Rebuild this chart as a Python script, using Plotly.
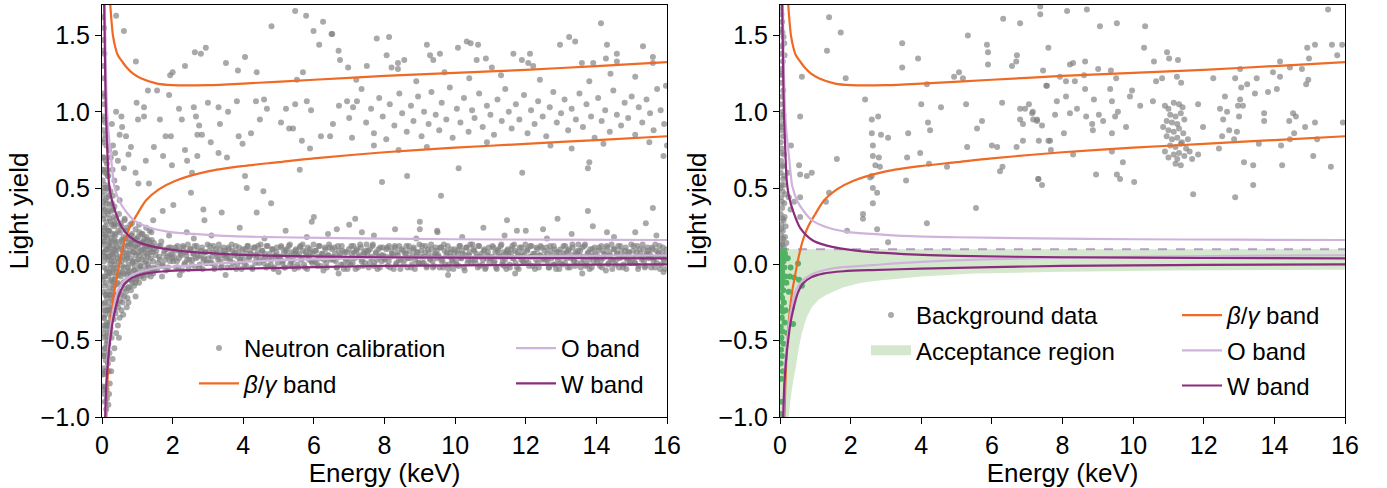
import plotly.graph_objects as go

FONT = "Liberation Sans, Arial, sans-serif"
GREY = "rgba(128,128,128,0.68)"
ORANGE = "#ef6a24"
OLIGHT = "#d0b3dc"
WDARK = "#8b2c7c"
DASHC = "#b99acd"
GFILL = "#d4e8cd"
GPTS = "#52b163"

energy_ticks = [0, 2, 4, 6, 8, 10, 12, 14, 16]
ly_ticks = [-1.0, -0.5, 0.0, 0.5, 1.0, 1.5]

# ---- band curves ----
bg_up_x = [0.22, 0.26, 0.31, 0.38, 0.45, 0.57, 0.70, 0.88, 1.10, 1.56, 2.00, 3.00, 4.00, 6.00, 8.00, 10.0, 12.0, 14.0, 16.0]
bg_up_y = [1.75, 1.62, 1.50, 1.42, 1.37, 1.33, 1.29, 1.25, 1.22, 1.185, 1.175, 1.175, 1.185, 1.21, 1.235, 1.255, 1.275, 1.30, 1.325]
bg_lo_x = [0.12, 0.15, 0.18, 0.22, 0.28, 0.35, 0.42, 0.52, 0.65, 0.80, 1.00, 1.25, 1.60, 2.10, 3.00, 4.00, 5.00, 6.00, 8.00, 10.0, 12.0, 14.0, 16.0]
bg_lo_y = [-1.05, -0.80, -0.62, -0.46, -0.30, -0.17, -0.08, 0.04, 0.16, 0.25, 0.33, 0.42, 0.49, 0.55, 0.61, 0.645, 0.67, 0.695, 0.735, 0.765, 0.79, 0.815, 0.84]
o_up_x = [0.08, 0.10, 0.13, 0.17, 0.24, 0.30, 0.35, 0.50, 0.70, 0.90, 1.30, 1.85, 2.60, 3.70, 5.00, 7.30, 10.0, 13.0, 16.0]
o_up_y = [1.72, 1.40, 1.10, 0.90, 0.74, 0.60, 0.51, 0.41, 0.34, 0.29, 0.245, 0.215, 0.20, 0.185, 0.178, 0.17, 0.165, 0.162, 0.16]
o_lo_x = [0.095, 0.13, 0.18, 0.25, 0.33, 0.45, 0.60, 0.75, 1.00, 1.30, 1.70, 2.60, 3.50, 4.90, 7.00, 10.0, 13.0, 16.0]
o_lo_y = [-1.05, -0.75, -0.55, -0.40, -0.28, -0.17, -0.115, -0.085, -0.055, -0.035, -0.02, -0.005, 0.01, 0.026, 0.04, 0.05, 0.056, 0.06]
w_up_x = [0.06, 0.075, 0.09, 0.11, 0.15, 0.19, 0.25, 0.37, 0.57, 0.93, 1.30, 1.70, 2.60, 3.50, 5.00, 8.00, 12.0, 16.0]
w_up_y = [1.72, 1.50, 1.25, 1.00, 0.75, 0.55, 0.45, 0.35, 0.24, 0.157, 0.125, 0.105, 0.08, 0.068, 0.056, 0.047, 0.042, 0.04]
w_lo_x = [0.085, 0.12, 0.17, 0.23, 0.30, 0.37, 0.50, 0.65, 0.88, 1.22, 1.80, 2.60, 4.00, 6.00, 8.00, 10.0, 12.0, 16.0]
w_lo_y = [-1.05, -0.80, -0.63, -0.50, -0.38, -0.30, -0.19, -0.125, -0.085, -0.06, -0.045, -0.037, -0.028, -0.018, -0.01, -0.006, -0.003, 0.0]

# ---- acceptance region (right panel) ----
acc_top = 0.1
acc_lo_x = [0.23, 0.30, 0.37, 0.45, 0.53, 0.62, 0.75, 0.90, 1.10, 1.30, 1.60, 1.80, 2.30, 2.80, 3.50, 4.00, 5.50, 7.60, 11.0, 16.0]
acc_lo_y = [-1.05, -0.88, -0.77, -0.67, -0.55, -0.45, -0.35, -0.28, -0.23, -0.20, -0.17, -0.15, -0.12, -0.105, -0.09, -0.08, -0.06, -0.05, -0.04, -0.035]

# ---- neutron calibration points (left panel) ----
neutron_upper = [
    (2.63,1.39),(2.80,1.38),(2.94,1.42),(0.96,1.33),(0.62,1.53),(0.40,1.63),(1.93,1.24),(2.00,1.26),(2.35,1.30),(3.51,1.32),
    (3.85,1.27),(4.05,1.36),(4.38,1.26),(4.80,1.56),(5.47,1.66),(5.78,1.63),(5.99,1.53),(6.26,1.59),(6.52,1.51),(6.15,1.44),
    (6.70,1.40),(6.74,1.34),(5.69,1.26),(5.52,1.21),(1.30,1.14),(1.56,1.14),(1.90,1.11),(0.98,1.06),(1.19,1.03),(1.19,0.97),
    (1.02,0.95),(0.40,1.00),(0.57,0.90),(0.28,0.92),(0.68,0.84),(0.37,0.73),(0.82,0.77),(0.45,0.68),(1.24,0.68),(1.47,0.77),
    (1.80,0.84),(1.95,0.84),(1.64,0.95),(2.18,1.02),(2.26,0.95),(2.60,1.03),(2.66,0.97),(2.75,0.91),(2.83,0.85),(2.70,0.85),
    (3.08,0.80),(3.00,1.06),(3.30,1.03),(3.34,0.92),(3.57,1.00),(3.82,1.07),(3.87,0.84),(3.98,0.79),(4.22,0.86),(4.36,1.07),
    (4.59,1.08),(4.67,1.02),(4.47,0.95),(5.07,0.93),(5.30,0.89),(5.41,0.89),(5.21,1.02),(5.47,1.05),(5.80,1.07),(5.92,1.01),
    (5.66,0.81),(5.89,0.76),(6.20,0.84),(6.46,0.84),(6.54,0.92),(6.71,1.04),(6.94,1.07),(7.08,0.83),(7.11,1.03),(7.22,1.07),
    (7.00,0.96),(3.54,0.70),(3.30,0.73),(2.41,0.68),(1.73,0.71),(2.35,0.75),(1.98,0.65),(4.05,0.58),(2.55,0.60),(2.70,0.71),
    (6.50,1.51),(7.78,1.48),(8.13,1.49),(8.06,1.37),(8.20,1.29),(8.38,1.32),(8.38,1.28),(8.56,1.34),(9.20,1.44),(9.29,1.37),
    (9.38,1.34),(9.57,1.38),(10.08,1.42),(10.33,1.46),(10.44,1.45),(10.65,1.44),(10.61,1.34),(10.87,1.35),(11.04,1.29),(11.65,1.38),
    (11.89,1.34),(12.12,1.38),(12.07,1.32),(12.21,1.30),(12.97,1.44),(13.23,1.49),(13.40,1.46),(13.59,1.32),(13.91,1.32),(14.13,1.58),
    (14.30,1.44),(14.27,1.35),(14.58,1.38),(14.58,1.33),(15.32,1.43),(15.60,1.36),(15.60,1.32),(6.97,1.29),(7.50,1.30),
    (7.35,1.15),(7.48,0.93),(7.62,1.02),(7.70,0.86),(7.85,1.09),(7.95,0.97),(8.05,0.82),(8.15,1.05),(8.28,0.91),(8.42,1.12),
    (8.50,0.99),(8.63,0.87),(8.75,1.04),(8.82,0.94),(8.95,1.10),(9.05,0.84),(9.12,1.00),(9.25,0.92),(9.33,1.13),(9.45,0.98),
    (9.55,0.88),(9.62,1.06),(9.75,0.95),(9.85,1.16),(9.93,0.83),(10.05,1.02),(10.15,0.93),(10.25,1.09),(10.38,0.87),(10.48,1.01),
    (10.55,0.96),(10.68,1.12),(10.78,0.90),(10.90,1.04),(11.00,0.98),(11.10,0.85),(11.20,1.08),(11.32,0.94),(11.42,1.15),(11.52,1.00),
    (11.60,0.89),(11.72,1.05),(11.82,0.95),(11.95,1.11),(12.05,0.86),(12.15,1.01),(12.25,0.92),(12.35,1.07),(12.48,0.97),(12.58,0.84),
    (12.68,1.03),(12.78,1.13),(12.88,0.93),(13.00,0.99),(13.10,1.08),(13.20,0.88),(13.30,1.02),(13.42,0.95),(13.52,1.12),(13.62,0.90),
    (13.72,1.05),(13.85,0.97),(13.95,0.83),(14.05,1.09),(14.15,0.94),(14.25,1.01),(14.38,0.87),(14.48,1.14),(14.58,0.98),(14.70,0.91),
    (14.80,1.06),(14.90,0.96),(15.00,1.10),(15.10,0.85),(15.20,1.03),(15.30,0.93),(15.42,1.08),(15.52,0.99),(15.62,0.88),(15.72,1.15),
    (15.82,1.01),(15.92,0.92),(15.97,1.17),(7.20,1.21),(8.90,1.20),(10.40,1.22),(12.40,1.21),(13.80,1.20),(15.10,1.23),(9.70,1.26),
    (11.30,1.24),(14.40,1.25),(7.70,0.78),(9.20,0.77),(10.90,0.80),(12.70,0.78),(14.20,0.79),(15.50,0.80),(8.40,0.75),(13.30,0.76),
    (7.17,0.30),(7.93,0.54),(8.64,0.58),(11.47,0.29),(13.76,0.35),(15.60,0.37),(13.76,0.63),(13.80,0.67),(6.65,0.23),(7.36,0.21),
    (9.00,0.23),(9.49,0.22),(11.75,0.22),(12.49,0.23),(14.30,0.21),(2.52,0.47),(2.87,0.36),(3.39,0.34),(4.10,0.50),(4.57,0.48),
    (4.79,0.40),(4.38,0.34),(5.94,0.28),(1.72,0.35),(2.02,0.39),(1.45,0.29),(1.03,0.53),(1.33,0.53),(5.60,0.62),(10.10,0.63),
    (15.90,0.71),(16.00,0.78),(11.90,0.60),(9.60,0.45),(0.31,0.78),(0.50,0.85),(0.75,0.72),(0.62,0.63),(0.95,0.60),(0.55,0.97),
]

neutron_band = [
    (0.52,0.12),(0.55,0.02),(0.58,-0.05),(0.61,0.18),(0.63,0.08),(0.66,-0.11),(0.68,0.22),(0.71,0.04),(0.73,-0.02),(0.76,0.14),(0.78,0.09),(0.81,-0.07),
    (0.83,0.19),(0.86,0.01),(0.88,0.11),(0.91,-0.04),(0.93,0.16),(0.96,0.06),(0.98,-0.09),(1.01,0.13),(1.03,0.03),(1.06,0.21),(1.08,-0.01),(1.11,0.09),
    (1.13,-0.06),(1.16,0.15),(1.18,0.05),(1.21,0.11),(1.23,-0.03),(1.26,0.18),(1.28,0.07),(1.31,0.00),(1.33,0.12),(1.36,-0.05),(1.38,0.04),(1.41,0.16),
    (1.43,0.08),(1.46,-0.02),(1.48,0.10),(0.54,0.25),(0.64,0.30),(0.74,-0.15),(0.85,0.27),(0.95,-0.12),(1.05,0.26),(1.15,0.20),(1.25,0.02),(1.35,0.22),
    (0.51,0.05),(0.53,-0.08),(0.56,0.15),(0.59,0.09),(0.62,-0.02),(0.65,0.12),(0.67,0.03),(0.70,-0.07),(0.72,0.17),(0.75,0.07),(0.77,-0.04),(0.80,0.13),
    (0.82,0.04),(0.84,-0.10),(0.87,0.16),(0.90,0.08),(0.92,-0.01),(0.94,0.12),(0.97,0.02),(1.00,-0.06),(1.02,0.18),(1.04,0.08),(1.07,-0.03),(1.10,0.14),
    (1.12,0.03),(1.14,-0.07),(1.17,0.10),(1.20,0.17),(1.22,0.01),(1.24,-0.05),(1.27,0.12),(1.30,0.05),(1.32,-0.02),(1.34,0.15),(1.37,0.08),(1.40,-0.04),
    (1.42,0.12),(1.44,0.02),(1.47,0.14),(1.49,-0.03),
    (1.52,0.06),(1.56,-0.03),(1.60,0.12),(1.64,0.03),(1.68,0.15),(1.72,0.00),(1.77,0.09),(1.81,-0.04),(1.85,0.05),(1.89,0.11),(1.93,0.02),(1.97,0.07),
    (2.02,0.02),(2.06,0.09),(2.10,-0.02),(2.14,0.12),(2.18,0.04),(2.22,0.07),(2.27,-0.04),(2.31,0.11),(2.35,0.01),(2.39,0.06),(2.43,0.13),(2.47,0.03),
    (2.52,0.10),(2.56,0.03),(2.60,0.07),(2.64,-0.02),(2.68,0.12),(2.72,0.05),(2.77,0.00),(2.81,0.09),(2.85,-0.03),(2.89,0.04),(2.93,0.08),(2.97,0.01),
    (3.02,0.04),(3.06,0.12),(3.10,0.01),(3.14,0.08),(3.18,-0.03),(3.22,0.10),(3.27,0.05),(3.31,0.13),(3.35,0.02),(3.39,-0.01),(3.43,0.07),(3.47,0.09),
    (3.51,0.07),(3.55,-0.02),(3.59,0.10),(3.63,0.04),(3.67,0.13),(3.71,0.01),(3.76,0.08),(3.80,-0.03),(3.84,0.05),(3.88,0.11),(3.92,0.02),(3.96,0.06),
    (4.01,0.03),(4.05,0.10),(4.09,-0.01),(4.13,0.12),(4.17,0.05),(4.21,0.07),(4.26,-0.03),(4.30,0.11),(4.34,0.01),(4.38,0.06),(4.42,0.12),(4.46,0.03),
    (4.53,0.09),(4.57,0.03),(4.61,0.07),(4.65,-0.02),(4.69,0.12),(4.73,0.04),(4.78,0.00),(4.82,0.10),(4.86,-0.03),(4.90,0.05),(4.94,0.08),(4.98,0.01),
    (5.03,0.05),(5.07,0.12),(5.11,0.01),(5.15,0.08),(5.19,-0.02),(5.23,0.10),(5.28,0.04),(5.32,0.13),(5.36,0.02),(5.40,-0.01),(5.44,0.07),(5.48,0.09),
    (5.52,0.06),(5.56,-0.02),(5.60,0.11),(5.64,0.03),(5.68,0.13),(5.72,0.00),(5.77,0.08),(5.81,-0.03),(5.85,0.05),(5.89,0.10),(5.93,0.02),(5.97,0.07),
    (6.02,0.02),(6.06,0.09),(6.10,-0.01),(6.14,0.12),(6.18,0.04),(6.22,0.07),(6.27,-0.04),(6.31,0.11),(6.35,0.01),(6.39,0.06),(6.43,0.13),(6.47,0.03),
    (6.52,0.10),(6.56,0.03),(6.60,0.07),(6.64,-0.02),(6.68,0.12),(6.72,0.05),(6.77,0.00),(6.81,0.09),(6.85,-0.03),(6.89,0.04),(6.93,0.08),(6.97,0.01),
    (7.02,0.04),(7.06,0.12),(7.10,0.01),(7.14,0.08),(7.18,-0.03),(7.22,0.10),(7.27,0.05),(7.31,0.13),(7.35,0.02),(7.39,-0.01),(7.43,0.07),(7.47,0.09),
    (7.51,0.07),(7.55,-0.02),(7.59,0.10),(7.63,0.04),(7.67,0.13),(7.71,0.01),(7.76,0.08),(7.80,-0.03),(7.84,0.05),(7.88,0.11),(7.92,0.02),(7.96,0.06),
    (8.01,0.03),(8.05,0.10),(8.09,-0.01),(8.13,0.12),(8.17,0.05),(8.21,0.07),(8.26,-0.03),(8.30,0.11),(8.34,0.01),(8.38,0.06),(8.42,0.12),(8.46,0.03),
    (8.53,0.09),(8.57,0.03),(8.61,0.07),(8.65,-0.02),(8.69,0.12),(8.73,0.04),(8.78,0.00),(8.82,0.10),(8.86,-0.03),(8.90,0.05),(8.94,0.08),(8.98,0.01),
    (9.03,0.05),(9.07,0.12),(9.11,0.01),(9.15,0.08),(9.19,-0.02),(9.23,0.10),(9.28,0.04),(9.32,0.13),(9.36,0.02),(9.40,-0.01),(9.44,0.07),(9.48,0.09),
    (9.52,0.06),(9.56,-0.02),(9.60,0.11),(9.64,0.03),(9.68,0.13),(9.72,0.00),(9.77,0.08),(9.81,-0.03),(9.85,0.05),(9.89,0.10),(9.93,0.02),(9.97,0.07),
    (10.02,0.02),(10.06,0.09),(10.10,-0.01),(10.14,0.12),(10.18,0.04),(10.22,0.07),(10.27,-0.04),(10.31,0.11),(10.35,0.01),(10.39,0.06),(10.43,0.13),(10.47,0.03),
    (10.52,0.10),(10.56,0.03),(10.60,0.07),(10.64,-0.02),(10.68,0.12),(10.72,0.05),(10.77,0.00),(10.81,0.09),(10.85,-0.03),(10.89,0.04),(10.93,0.08),(10.97,0.01),
    (11.02,0.04),(11.06,0.12),(11.10,0.01),(11.14,0.08),(11.18,-0.03),(11.22,0.10),(11.27,0.05),(11.31,0.13),(11.35,0.02),(11.39,-0.01),(11.43,0.07),(11.47,0.09),
    (11.51,0.07),(11.55,-0.02),(11.59,0.10),(11.63,0.04),(11.67,0.13),(11.71,0.01),(11.76,0.08),(11.80,-0.03),(11.84,0.05),(11.88,0.11),(11.92,0.02),(11.96,0.06),
    (12.01,0.03),(12.05,0.10),(12.09,-0.01),(12.13,0.12),(12.17,0.05),(12.21,0.07),(12.26,-0.03),(12.30,0.11),(12.34,0.01),(12.38,0.06),(12.42,0.12),(12.46,0.03),
    (12.53,0.09),(12.57,0.03),(12.61,0.07),(12.65,-0.02),(12.69,0.12),(12.73,0.04),(12.78,0.00),(12.82,0.10),(12.86,-0.03),(12.90,0.05),(12.94,0.08),(12.98,0.01),
    (13.03,0.05),(13.07,0.12),(13.11,0.01),(13.15,0.08),(13.19,-0.02),(13.23,0.10),(13.28,0.04),(13.32,0.13),(13.36,0.02),(13.40,-0.01),(13.44,0.07),(13.48,0.09),
    (13.52,0.06),(13.56,-0.02),(13.60,0.11),(13.64,0.03),(13.68,0.13),(13.72,0.00),(13.77,0.08),(13.81,-0.03),(13.85,0.05),(13.89,0.10),(13.93,0.02),(13.97,0.07),
    (14.02,0.02),(14.06,0.09),(14.10,-0.01),(14.14,0.12),(14.18,0.04),(14.22,0.07),(14.27,-0.04),(14.31,0.11),(14.35,0.01),(14.39,0.06),(14.43,0.13),(14.47,0.03),
    (14.52,0.10),(14.56,0.03),(14.60,0.07),(14.64,-0.02),(14.68,0.12),(14.72,0.05),(14.77,0.00),(14.81,0.09),(14.85,-0.03),(14.89,0.04),(14.93,0.08),(14.97,0.01),
    (15.02,0.04),(15.06,0.12),(15.10,0.01),(15.14,0.08),(15.18,-0.03),(15.22,0.10),(15.27,0.05),(15.31,0.13),(15.35,0.02),(15.39,-0.01),(15.43,0.07),(15.47,0.09),
    (15.51,0.07),(15.55,-0.02),(15.59,0.10),(15.63,0.04),(15.67,0.13),(15.71,0.01),(15.76,0.08),(15.80,-0.03),(15.84,0.05),(15.88,0.11),(15.92,0.02),(15.96,0.06),
    (2.40,0.21),(3.10,0.19),(3.90,0.24),(4.60,0.17),(5.20,0.22),(5.80,0.18),(6.40,0.20),(7.00,0.26),(7.70,0.19),(8.30,0.23),
    (8.90,0.17),(9.50,0.21),(10.20,0.18),(10.80,0.24),(11.40,0.19),(12.00,0.22),(12.60,0.17),(13.30,0.20),(13.90,0.25),(14.50,0.18),
    (15.10,0.21),(15.70,0.19),(2.90,0.29),(6.00,0.31),(9.00,0.28),(12.90,0.30),(15.40,0.27),(3.50,-0.07),(6.70,-0.06),(9.80,-0.07),
    (13.60,-0.06),(5.00,-0.05),(11.70,-0.06),(15.90,-0.05),(1.70,-0.08),(2.20,-0.07),(1.90,0.19),(2.60,0.17),
]

neutron_band_b = [
    (1.54,0.09),(1.58,0.01),(1.62,0.05),(1.66,0.12),(1.70,-0.01),(1.75,0.07),(1.79,0.03),(1.83,0.10),(1.87,-0.02),(1.91,0.06),(1.95,0.11),(1.99,0.04),
    (2.04,0.05),(2.08,0.11),(2.12,0.02),(2.16,-0.02),(2.20,0.09),(2.25,0.06),(2.29,0.12),(2.33,0.00),(2.37,0.08),(2.41,0.03),(2.45,-0.03),(2.49,0.10),
    (2.54,0.00),(2.58,0.07),(2.62,0.12),(2.66,0.04),(2.70,0.09),(2.75,-0.02),(2.79,0.06),(2.83,0.11),(2.87,0.03),(2.91,0.08),(2.95,0.01),(2.99,0.13),
    (3.04,0.09),(3.08,0.01),(3.12,0.05),(3.16,0.12),(3.20,-0.01),(3.25,0.07),(3.29,0.03),(3.33,0.10),(3.37,-0.02),(3.41,0.06),(3.45,0.11),(3.49,0.04),
    (3.54,0.05),(3.58,0.11),(3.62,0.02),(3.66,-0.02),(3.70,0.09),(3.75,0.06),(3.79,0.12),(3.83,0.00),(3.87,0.08),(3.91,0.03),(3.95,-0.03),(3.99,0.10),
    (4.04,0.00),(4.08,0.07),(4.12,0.12),(4.16,0.04),(4.20,0.09),(4.25,-0.02),(4.29,0.06),(4.33,0.11),(4.37,0.03),(4.41,0.08),(4.45,0.01),(4.49,0.13),
    (4.54,0.09),(4.58,0.01),(4.62,0.05),(4.66,0.12),(4.70,-0.01),(4.75,0.07),(4.79,0.03),(4.83,0.10),(4.87,-0.02),(4.91,0.06),(4.95,0.11),(4.99,0.04),
    (5.04,0.05),(5.08,0.11),(5.12,0.02),(5.16,-0.02),(5.20,0.09),(5.25,0.06),(5.29,0.12),(5.33,0.00),(5.37,0.08),(5.41,0.03),(5.45,-0.03),(5.49,0.10),
    (5.54,0.00),(5.58,0.07),(5.62,0.12),(5.66,0.04),(5.70,0.09),(5.75,-0.02),(5.79,0.06),(5.83,0.11),(5.87,0.03),(5.91,0.08),(5.95,0.01),(5.99,0.13),
    (6.04,0.09),(6.08,0.01),(6.12,0.05),(6.16,0.12),(6.20,-0.01),(6.25,0.07),(6.29,0.03),(6.33,0.10),(6.37,-0.02),(6.41,0.06),(6.45,0.11),(6.49,0.04),
    (6.54,0.05),(6.58,0.11),(6.62,0.02),(6.66,-0.02),(6.70,0.09),(6.75,0.06),(6.79,0.12),(6.83,0.00),(6.87,0.08),(6.91,0.03),(6.95,-0.03),(6.99,0.10),
    (7.04,0.00),(7.08,0.07),(7.12,0.12),(7.16,0.04),(7.20,0.09),(7.25,-0.02),(7.29,0.06),(7.33,0.11),(7.37,0.03),(7.41,0.08),(7.45,0.01),(7.49,0.13),
    (7.54,0.09),(7.58,0.01),(7.62,0.05),(7.66,0.12),(7.70,-0.01),(7.75,0.07),(7.79,0.03),(7.83,0.10),(7.87,-0.02),(7.91,0.06),(7.95,0.11),(7.99,0.04),
    (8.04,0.05),(8.08,0.11),(8.12,0.02),(8.16,-0.02),(8.20,0.09),(8.25,0.06),(8.29,0.12),(8.33,0.00),(8.37,0.08),(8.41,0.03),(8.45,-0.03),(8.49,0.10),
    (8.54,0.00),(8.58,0.07),(8.62,0.12),(8.66,0.04),(8.70,0.09),(8.75,-0.02),(8.79,0.06),(8.83,0.11),(8.87,0.03),(8.91,0.08),(8.95,0.01),(8.99,0.13),
    (9.04,0.09),(9.08,0.01),(9.12,0.05),(9.16,0.12),(9.20,-0.01),(9.25,0.07),(9.29,0.03),(9.33,0.10),(9.37,-0.02),(9.41,0.06),(9.45,0.11),(9.49,0.04),
    (9.54,0.05),(9.58,0.11),(9.62,0.02),(9.66,-0.02),(9.70,0.09),(9.75,0.06),(9.79,0.12),(9.83,0.00),(9.87,0.08),(9.91,0.03),(9.95,-0.03),(9.99,0.10),
    (10.04,0.00),(10.08,0.07),(10.12,0.12),(10.16,0.04),(10.20,0.09),(10.25,-0.02),(10.29,0.06),(10.33,0.11),(10.37,0.03),(10.41,0.08),(10.45,0.01),(10.49,0.13),
    (10.54,0.09),(10.58,0.01),(10.62,0.05),(10.66,0.12),(10.70,-0.01),(10.75,0.07),(10.79,0.03),(10.83,0.10),(10.87,-0.02),(10.91,0.06),(10.95,0.11),(10.99,0.04),
    (11.04,0.05),(11.08,0.11),(11.12,0.02),(11.16,-0.02),(11.20,0.09),(11.25,0.06),(11.29,0.12),(11.33,0.00),(11.37,0.08),(11.41,0.03),(11.45,-0.03),(11.49,0.10),
    (11.54,0.00),(11.58,0.07),(11.62,0.12),(11.66,0.04),(11.70,0.09),(11.75,-0.02),(11.79,0.06),(11.83,0.11),(11.87,0.03),(11.91,0.08),(11.95,0.01),(11.99,0.13),
    (12.04,0.09),(12.08,0.01),(12.12,0.05),(12.16,0.12),(12.20,-0.01),(12.25,0.07),(12.29,0.03),(12.33,0.10),(12.37,-0.02),(12.41,0.06),(12.45,0.11),(12.49,0.04),
    (12.54,0.05),(12.58,0.11),(12.62,0.02),(12.66,-0.02),(12.70,0.09),(12.75,0.06),(12.79,0.12),(12.83,0.00),(12.87,0.08),(12.91,0.03),(12.95,-0.03),(12.99,0.10),
    (13.04,0.00),(13.08,0.07),(13.12,0.12),(13.16,0.04),(13.20,0.09),(13.25,-0.02),(13.29,0.06),(13.33,0.11),(13.37,0.03),(13.41,0.08),(13.45,0.01),(13.49,0.13),
    (13.54,0.09),(13.58,0.01),(13.62,0.05),(13.66,0.12),(13.70,-0.01),(13.75,0.07),(13.79,0.03),(13.83,0.10),(13.87,-0.02),(13.91,0.06),(13.95,0.11),(13.99,0.04),
    (14.04,0.05),(14.08,0.11),(14.12,0.02),(14.16,-0.02),(14.20,0.09),(14.25,0.06),(14.29,0.12),(14.33,0.00),(14.37,0.08),(14.41,0.03),(14.45,-0.03),(14.49,0.10),
    (14.54,0.00),(14.58,0.07),(14.62,0.12),(14.66,0.04),(14.70,0.09),(14.75,-0.02),(14.79,0.06),(14.83,0.11),(14.87,0.03),(14.91,0.08),(14.95,0.01),(14.99,0.13),
    (15.04,0.09),(15.08,0.01),(15.12,0.05),(15.16,0.12),(15.20,-0.01),(15.25,0.07),(15.29,0.03),(15.33,0.10),(15.37,-0.02),(15.41,0.06),(15.45,0.11),(15.49,0.04),
    (15.54,0.05),(15.58,0.11),(15.62,0.02),(15.66,-0.02),(15.70,0.09),(15.75,0.06),(15.79,0.12),(15.83,0.00),(15.87,0.08),(15.91,0.03),(15.95,-0.03),(15.99,0.10),
]

neutron_low_energy = [
    (0.03,0.70),(0.05,0.62),(0.02,0.55),(0.07,0.48),(0.04,0.41),(0.09,0.36),(0.03,0.30),(0.06,0.24),(0.11,0.19),(0.02,0.13),
    (0.08,0.08),(0.05,0.02),(0.12,-0.03),(0.03,-0.08),(0.07,-0.14),(0.10,-0.20),(0.04,-0.26),(0.09,-0.33),(0.06,-0.40),(0.12,-0.47),
    (0.08,-0.55),(0.11,-0.63),(0.13,-0.71),(0.10,-0.80),(0.14,-0.88),(0.12,-0.95),(0.15,-0.60),(0.16,-0.45),(0.18,-0.52),(0.20,-0.38),
    (0.14,0.66),(0.16,0.58),(0.18,0.50),(0.15,0.44),(0.21,0.39),(0.17,0.33),(0.24,0.28),(0.19,0.22),(0.26,0.17),(0.22,0.11),
    (0.28,0.06),(0.23,0.00),(0.30,-0.05),(0.25,-0.11),(0.32,-0.16),(0.27,-0.22),(0.34,-0.28),(0.29,-0.34),(0.22,-0.30),(0.24,-0.42),
    (0.31,0.45),(0.35,0.38),(0.33,0.31),(0.38,0.26),(0.36,0.20),(0.41,0.15),(0.39,0.09),(0.44,0.04),(0.42,-0.02),(0.47,-0.07),
    (0.45,-0.13),(0.50,-0.18),(0.40,-0.24),(0.37,-0.20),(0.48,0.33),(0.53,0.27),(0.51,0.21),(0.56,0.16),(0.54,0.10),(0.59,0.05),
    (0.57,-0.01),(0.62,-0.06),(0.60,-0.12),(0.65,-0.16),(0.64,0.29),(0.69,0.24),(0.67,0.17),(0.72,0.12),(0.70,0.06),(0.75,0.00),
    (0.74,-0.05),(0.79,-0.10),(0.80,0.26),(0.85,0.20),(0.83,0.14),(0.89,0.08),(0.87,0.02),(0.92,-0.04),(0.95,0.23),(0.99,0.17),
    (1.02,0.11),(1.05,0.06),(1.09,-0.01),(1.12,0.20),(1.17,0.14),(1.21,0.08),(1.25,0.24),(1.30,0.16),(1.35,0.10),(1.40,0.21),
    (0.01,0.45),(0.02,0.20),(0.03,-0.35),(0.04,-0.60),(0.05,0.35),(0.06,-0.02),(0.07,0.15),(0.08,-0.25),(0.09,0.52),(0.10,0.05),
    (0.11,-0.12),(0.12,0.28),(0.13,-0.38),(0.14,0.10),(0.15,-0.18),(0.16,0.22),(0.17,-0.08),(0.18,0.03),(0.19,-0.25),(0.20,0.14),
    (0.21,-0.15),(0.22,0.30),(0.23,-0.06),(0.24,0.08),(0.25,-0.20),(0.26,0.35),(0.27,0.02),(0.28,-0.10),(0.29,0.20),(0.30,0.12),
    (0.31,-0.24),(0.32,0.05),(0.33,-0.03),(0.34,0.16),(0.35,-0.14),(0.36,0.27),(0.37,0.00),(0.38,-0.08),(0.39,0.14),(0.40,0.07),
    (0.02,-0.72),(0.04,-0.82),(0.06,-0.68),(0.08,-0.90),(0.05,-0.48),(0.07,-0.58),(0.09,-0.70),(0.11,-0.40),(0.13,-0.52),(0.15,-0.30),
    (0.17,-0.40),(0.19,-0.48),(0.21,-0.58),(0.23,-0.45),(0.25,-0.35),(0.27,-0.48),(0.29,-0.28),(0.33,-0.36),(0.35,-0.30),(0.38,-0.32),
    (0.42,-0.26),(0.44,-0.20),(0.46,-0.28),(0.52,-0.24),(0.55,-0.20),(0.58,-0.25),(0.63,-0.21),(0.68,-0.18),(0.72,-0.22),(0.77,-0.15),
    (0.82,-0.17),(0.86,-0.12),(0.91,-0.14),(0.97,-0.10),(1.05,-0.12),(1.10,-0.08),(1.18,-0.09),(1.28,-0.07),(1.38,-0.08),(1.45,-0.06),
    (0.45,-0.40),(0.50,-0.35),(0.55,-0.30),(0.60,-0.33),(0.40,-0.45),(0.35,-0.55),(0.30,-0.62),(0.26,-0.70),(0.22,-0.78),(0.70,-0.28),
    (0.75,-0.25),(0.95,-0.21),(0.48,-0.48),(0.20,-0.85),(0.18,-0.92),
    (0.02,0.80),(0.04,0.88),(0.03,0.97),(0.06,1.05),(0.02,1.12),(0.05,1.22),(0.03,1.30),(0.07,1.38),(0.04,1.47),(0.06,1.55),
    (0.03,1.62),(0.09,0.93),(0.12,0.78),(0.10,0.85),(0.20,0.75),(0.25,0.70),(0.30,0.62),(0.35,0.55),(0.42,0.50),(0.50,0.42),
    (0.02,0.38),(0.04,0.15),(0.06,0.50),(0.03,-0.18),(0.05,-0.30),(0.07,0.05),(0.09,-0.42),(0.10,0.42),(0.11,0.25),(0.13,0.60),
    (0.14,-0.22),(0.16,0.05),(0.18,0.35),(0.20,-0.05),(0.21,0.22),(0.23,-0.32),(0.24,0.48),(0.26,-0.02),(0.28,0.26),(0.30,-0.18),
    (0.32,0.36),(0.34,0.02),(0.36,-0.10),(0.38,0.19),(0.40,0.30),(0.42,0.11),(0.44,-0.12),(0.46,0.22),(0.48,0.02),(0.49,-0.05),
    (0.01,0.62),(0.02,-0.10),(0.03,0.08),(0.04,-0.45),(0.05,0.22),(0.06,-0.35),(0.07,0.32),(0.08,0.18),(0.09,-0.08),(0.10,-0.30),
    (0.11,0.10),(0.12,-0.20),(0.13,0.40),(0.14,-0.05),(0.15,0.18),(0.16,-0.40),(0.17,0.12),(0.18,-0.28),(0.19,0.45),(0.20,0.05),
    (0.22,-0.20),(0.24,0.15),(0.26,-0.30),(0.28,0.40),(0.30,0.08),(0.32,-0.12),(0.34,0.25),(0.36,0.10),(0.38,-0.20),(0.40,-0.05),
    (0.01,-0.80),(0.03,-0.60),(0.05,-0.72),(0.07,-0.85),(0.09,-0.55),(0.11,-0.70),(0.13,-0.82),(0.15,-0.50),(0.17,-0.65),(0.19,-0.70),
    (0.01,0.95),(0.02,1.40),(0.03,1.10),(0.05,0.82),(0.06,0.70),(0.08,0.60),(0.10,0.68),(0.12,0.50),(0.15,0.62),(0.18,0.58),
]

# ---- background data (right panel) ----
background_pts = [
    (0.02,0.12),(0.05,0.15),(0.03,0.19),(0.08,0.22),(0.04,0.26),(0.10,0.29),(0.02,0.33),(0.06,0.37),(0.12,0.40),(0.03,0.44),
    (0.07,0.48),(0.04,0.52),(0.09,0.56),(0.02,0.60),(0.06,0.64),(0.03,0.68),(0.11,0.72),(0.05,0.76),(0.02,0.80),(0.08,0.84),
    (0.04,0.88),(0.06,0.92),(0.03,0.96),(0.07,1.00),(0.02,1.05),(0.05,1.10),(0.09,1.14),(0.03,1.19),(0.06,1.24),(0.04,1.28),
    (0.08,1.33),(0.02,1.38),(0.05,1.43),(0.10,1.49),(0.03,1.54),(0.06,1.59),(0.04,1.64),(0.02,1.68),(0.14,0.18),(0.16,0.25),
    (0.13,0.31),(0.18,0.14),(0.15,0.46),(0.12,0.58),(0.01,0.50),(0.01,0.90),(0.01,1.25),(0.07,0.30),(0.09,0.17),(0.11,0.11),
    (0.06,0.13),(0.03,0.23),(0.05,0.41),(0.08,0.65),(0.04,0.73),(0.10,0.98),(0.07,1.52),(0.12,1.45),(0.13,1.37),(0.11,0.52),
    (0.25,0.44),(0.30,0.36),(0.40,0.41),(0.31,0.78),(0.22,0.60),
    (0.57,0.97),(1.33,1.40),(1.39,1.62),(1.72,1.52),(1.86,1.22),(0.62,1.23),(2.41,1.08),(2.60,0.95),(2.78,0.97),(2.60,0.86),
    (2.86,0.85),(2.63,0.78),(2.63,0.71),(2.80,0.70),(2.70,0.65),(2.83,0.64),(2.60,0.58),(2.55,0.57),(2.63,0.50),(2.75,0.47),
    (2.63,0.40),(2.35,0.33),(2.35,0.30),(2.75,0.23),(3.06,0.145),(1.90,0.22),(1.61,0.69),(1.39,0.47),(1.30,0.41),(0.57,0.31),
    (0.57,0.44),(0.54,0.65),(0.57,0.59),(0.76,0.58),(0.90,0.60),(3.06,0.83),(3.46,1.45),(3.46,1.29),(3.63,0.86),(3.60,0.70),
    (3.57,0.55),(3.91,1.35),(4.00,1.05),(4.16,1.18),(4.19,0.93),(4.25,0.88),(3.97,0.73),(4.22,0.66),(4.16,0.27),(4.56,1.03),
    (4.73,0.64),(4.93,1.23),(5.07,1.26),(5.18,1.22),(5.27,1.05),(5.30,0.77),(5.32,1.50),(5.55,0.37),(5.58,0.89),(5.72,0.94),
    (5.86,1.44),(5.89,1.31),(5.89,1.39),(6.00,0.78),(6.15,0.77),(6.23,0.61),(6.29,1.06),(6.32,1.61),(6.30,0.64),(6.57,1.30),
    (6.69,1.33),(6.71,1.37),(6.70,0.77),(6.80,1.58),(6.80,0.95),(6.80,1.02),(6.88,0.81),(6.94,1.02),(7.05,1.05),(7.14,0.99),
    (6.88,0.92),(7.17,0.95),(7.28,0.95),(7.32,0.56),(7.42,0.52),(7.42,0.91),(7.37,1.64),(7.45,1.27),(7.54,1.17),(7.60,1.42),
    (7.60,0.81),(7.37,1.69),
    (8.13,1.66),(8.69,1.67),(9.06,1.56),(9.54,1.58),(10.34,1.56),(10.31,1.42),(10.96,1.39),(11.02,1.35),(11.27,1.34),(10.59,1.33),
    (8.21,1.31),(8.30,1.32),(8.64,1.33),(9.01,1.28),(9.37,1.27),(7.93,1.23),(8.61,1.24),(9.52,1.22),(8.35,1.20),
    (12.27,1.22),(12.89,1.22),(13.03,1.28),(13.50,1.22),(13.96,1.26),(14.16,1.33),(14.16,1.23),(14.44,1.29),(14.78,1.28),(14.93,1.42),
    (14.98,1.35),(15.15,1.44),(15.63,1.44),(15.92,1.44),(15.78,1.37),(15.52,1.67),(14.96,1.21),(14.90,1.18),(13.06,1.16),(13.23,1.18),
    (13.45,1.12),(13.82,1.13),(14.07,1.15),(12.60,1.10),(12.46,1.02),(12.66,1.00),(12.55,0.95),(12.97,1.04),(13.11,1.04),(13.03,1.08),
    (13.00,0.97),(12.72,0.88),(12.94,0.87),(12.52,0.84),(12.86,0.82),(12.43,0.76),(13.71,0.99),(13.71,0.94),(13.56,0.79),(14.19,0.78),
    (14.42,0.94),(14.53,0.99),(14.61,0.97),(14.56,0.86),(14.44,0.82),(14.87,0.90),(15.15,0.93),(15.21,0.82),(15.10,0.71),(15.60,0.64),
    (15.94,0.93),(14.22,0.65),(13.40,0.65),(13.40,0.52),(13.14,0.67),(12.89,0.44),(11.70,0.46),(11.84,0.72),(11.67,0.69),(11.98,0.90),
    (11.84,1.05),(11.36,1.19),(11.24,1.23),(10.82,1.22),(10.65,1.20),(10.56,1.07),(10.20,1.04),(9.97,1.14),(9.91,1.10),(9.80,0.90),
    (9.71,0.67),(9.54,0.59),(9.63,0.56),(10.03,0.54),(8.95,0.59),(9.40,0.74),(9.40,0.86),(9.49,0.97),(9.57,1.00),(9.35,1.15),
    (9.40,1.07),(9.15,0.94),(9.03,0.98),(8.89,1.08),(8.84,0.92),(8.86,0.88),(8.67,0.97),(8.64,1.15),(8.41,1.02),(8.21,0.99),
    (8.10,1.10),(7.84,1.07),(7.79,0.98),(8.04,0.86),(8.30,0.72),(7.67,0.75),(7.65,0.81),(7.33,0.81),(7.28,0.94),(7.16,1.00),
    (7.56,1.17),(8.10,1.20),(7.31,0.56),
    (10.90,1.04),(11.00,1.02),(11.15,1.06),(11.30,1.05),(11.40,1.03),(11.05,0.98),(11.20,0.97),(11.35,0.99),(10.95,0.94),(11.10,0.93),
    (11.25,0.92),(11.45,0.95),(10.85,0.90),(11.00,0.88),(11.15,0.87),(11.30,0.89),(11.42,0.86),(10.95,0.84),(11.10,0.82),(11.25,0.83),
    (11.38,0.80),(11.05,0.78),(11.20,0.77),(11.35,0.79),(11.50,0.76),(10.90,0.74),(11.15,0.72),(11.30,0.73),(11.45,0.71),(11.20,0.66),
    (11.35,0.65),(11.25,0.69),(11.00,0.70),(11.55,0.82),(11.60,0.74),
]

accepted_pts = [
    (0.02,0.08),(0.05,0.06),(0.03,0.03),(0.08,0.05),(0.04,0.00),(0.10,0.02),(0.02,-0.03),(0.06,-0.05),(0.12,-0.02),(0.03,-0.08),
    (0.07,-0.11),(0.04,-0.14),(0.09,-0.17),(0.02,-0.20),(0.06,-0.22),(0.11,-0.25),(0.03,-0.28),(0.08,-0.31),(0.05,-0.35),(0.13,-0.38),
    (0.02,-0.41),(0.07,-0.44),(0.04,-0.48),(0.10,-0.52),(0.03,-0.56),(0.06,-0.60),(0.02,-0.65),(0.08,-0.70),(0.04,-0.75),(0.15,-0.08),
    (0.14,0.07),(0.18,-0.12),(0.16,-0.30),(0.51,0.006),(0.28,-0.08),(0.40,-0.085),(0.54,-0.10),(0.62,-0.14),(0.34,-0.28),(0.37,-0.39),
    (0.22,0.04),(0.30,-0.02),(0.25,-0.18),(0.20,-0.45),(0.12,0.09),(0.01,-0.50),(0.01,-0.15),(0.01,0.05),(0.05,-0.90),(0.03,-0.98),
]


def unzip(pts):
    return [p[0] for p in pts], [p[1] for p in pts]


fig = go.Figure()
LW = 2.2
MS = 6
BG_NAME = "<i>β</i>/<i>γ</i> band"

# ---------------- left panel ----------------
nx, ny = unzip(neutron_low_energy + neutron_band + neutron_band_b + neutron_upper)
fig.add_trace(go.Scatter(x=nx, y=ny, mode="markers", name="Neutron calibration",
                         marker=dict(color=GREY, size=MS, line=dict(width=0)),
                         xaxis="x", yaxis="y", legend="legend", legendgroup="n"))

band_specs = [
    (BG_NAME, ORANGE, bg_up_x, bg_up_y, bg_lo_x, bg_lo_y, "legend", "bg"),
    ("O band", OLIGHT, o_up_x, o_up_y, o_lo_x, o_lo_y, "legend2", "o"),
    ("W band", WDARK, w_up_x, w_up_y, w_lo_x, w_lo_y, "legend2", "w"),
]
for name, col, ux, uy, lx, ly, lg, grp in band_specs:
    fig.add_trace(go.Scatter(x=ux, y=uy, mode="lines", name=name,
                             line=dict(color=col, width=LW, shape="spline", smoothing=0.8),
                             xaxis="x", yaxis="y", legend=lg, legendgroup=grp, showlegend=True))
    fig.add_trace(go.Scatter(x=lx, y=ly, mode="lines", name=name,
                             line=dict(color=col, width=LW, shape="spline", smoothing=0.8),
                             xaxis="x", yaxis="y", legend=lg, legendgroup=grp, showlegend=False))

# ---------------- right panel ----------------
poly_x = [0, 16] + acc_lo_x[::-1] + [0]
poly_y = [acc_top, acc_top] + acc_lo_y[::-1] + [acc_lo_y[0]]
fig.add_trace(go.Scatter(x=poly_x, y=poly_y, mode="none", fill="toself", fillcolor=GFILL,
                         showlegend=False, xaxis="x2", yaxis="y2", legendgroup="acc"))
# legend proxy for the acceptance patch
fig.add_trace(go.Scatter(x=[None], y=[None], mode="lines", name="Acceptance region",
                         line=dict(color=GFILL, width=17), xaxis="x2", yaxis="y2",
                         legend="legend3", legendgroup="acc", legendrank=2))
fig.add_trace(go.Scatter(x=[0, 16], y=[acc_top, acc_top], mode="lines",
                         line=dict(color=DASHC, width=2, dash="dash"),
                         showlegend=False, xaxis="x2", yaxis="y2"))
bx, by = unzip(background_pts)
fig.add_trace(go.Scatter(x=bx, y=by, mode="markers", name="Background data",
                         marker=dict(color=GREY, size=MS, line=dict(width=0)),
                         xaxis="x2", yaxis="y2", legend="legend3", legendgroup="bgd", legendrank=1))
ax_, ay_ = unzip(accepted_pts)
fig.add_trace(go.Scatter(x=ax_, y=ay_, mode="markers", showlegend=False,
                         marker=dict(color=GPTS, size=MS, line=dict(width=0)),
                         xaxis="x2", yaxis="y2"))
for name, col, ux, uy, lx, ly, lg, grp in band_specs:
    fig.add_trace(go.Scatter(x=ux, y=uy, mode="lines", name=name,
                             line=dict(color=col, width=LW, shape="spline", smoothing=0.8),
                             xaxis="x2", yaxis="y2", legend="legend4", legendgroup=grp + "2", showlegend=True))
    fig.add_trace(go.Scatter(x=lx, y=ly, mode="lines", name=name,
                             line=dict(color=col, width=LW, shape="spline", smoothing=0.8),
                             xaxis="x2", yaxis="y2", legend="legend4", legendgroup=grp + "2", showlegend=False))

# ---------------- layout ----------------
ML, MR, MT, MB = 102, 42, 5, 71
W, H = 1387, 488
PW, PH = W - ML - MR, H - MT - MB


def px_x(px):
    return (px - ML) / PW


def px_y(py):
    return (H - MB - py) / PH


axis_common = dict(showline=True, linecolor="black", linewidth=1.2, mirror=True,
                   ticks="outside", ticklen=6, tickwidth=1.2, tickcolor="black",
                   showgrid=False, zeroline=False,
                   tickfont=dict(family=FONT, size=25, color="black"),
                   title_font=dict(family=FONT, size=26, color="black"))

leg_common = dict(font=dict(family=FONT, size=24, color="black"), bgcolor="rgba(0,0,0,0)",
                  borderwidth=0, xanchor="left", yanchor="top", itemwidth=40,
                  traceorder="grouped", tracegroupgap=1, orientation="v")

fig.update_layout(
    width=W, height=H,
    margin=dict(l=ML, r=MR, t=MT, b=MB),
    paper_bgcolor="white", plot_bgcolor="white",
    font=dict(family=FONT, size=24, color="black"),
    xaxis=dict(domain=[0, px_x(667)], range=[0, 16], tickvals=energy_ticks,
               title=dict(text="Energy (keV)", standoff=2), anchor="y", **axis_common),
    yaxis=dict(domain=[0, 1], range=[-1, 1.7], tickvals=ly_ticks, tickformat=".1f",
               title=dict(text="Light yield", standoff=4), anchor="x", **axis_common),
    xaxis2=dict(domain=[px_x(780), 1], range=[0, 16], tickvals=energy_ticks,
                title=dict(text="Energy (keV)", standoff=2), anchor="y2", **axis_common),
    yaxis2=dict(domain=[0, 1], range=[-1, 1.7], tickvals=ly_ticks, tickformat=".1f",
                title=dict(text="Light yield", standoff=4), anchor="x2", **axis_common),
    legend=dict(x=px_x(194), y=px_y(326), **leg_common),
    legend2=dict(x=px_x(511), y=px_y(326), **leg_common),
    legend3=dict(x=px_x(866), y=px_y(293), **leg_common),
    legend4=dict(x=px_x(1177), y=px_y(293), **leg_common),
)

fig.write_html("out.html")
